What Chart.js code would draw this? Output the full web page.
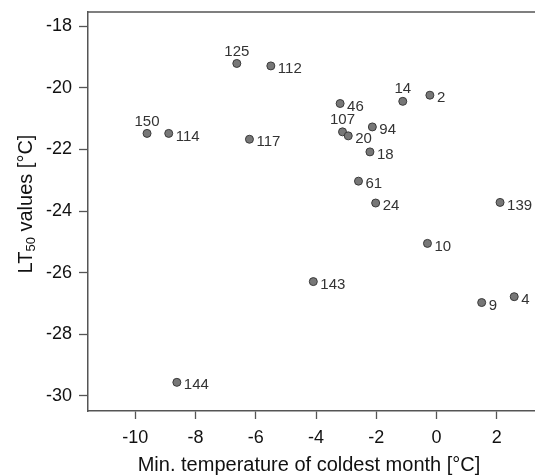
<!DOCTYPE html>
<html>
<head>
<meta charset="utf-8">
<script src="https://cdn.jsdelivr.net/npm/chart.js@4"></script>
<style>
  html, body { margin: 0; padding: 0; background: #fff; overflow: hidden; }
  #wrap { width: 535px; height: 475px; }
</style>
</head>
<body>
<div id="wrap"><canvas id="chart" width="535" height="475"></canvas></div>
<script>
// site numbers, min. temperature of coldest month, LT50 values
const siteIds = ['150', '114', '125', '117', '112', '46', '107', '20', '94', '18',
                 '14', '2', '61', '24', '139', '10', '143', '9', '4', '144'];
const minTemp = [-9.61, -8.89, -6.63, -6.21, -5.50, -3.20, -3.12, -2.93, -2.13, -2.21,
                 -1.12, -0.22, -2.59, -2.02, 2.11, -0.30, -4.09, 1.50, 2.58, -8.62];
const lt50 = [-21.48, -21.48, -19.21, -21.67, -19.29, -20.51, -21.43, -21.56, -21.27, -22.08,
              -20.44, -20.24, -23.03, -23.74, -23.72, -25.05, -26.29, -26.97, -26.78, -29.56];
const xTicks = [-10, -8, -6, -4, -2, 0, 2];
const yTicks = [-30, -28, -26, -24, -22, -20, -18];
const labelsAbove = ['150', '125', '14', '107'];

const FONT = '"Liberation Sans", Arial, sans-serif';
const axisColor = '#555';

const points = minTemp.map((x, i) => ({ x: x, y: lt50[i] }));

// labels next to each point
const pointLabels = {
    id: 'pointLabels',
    afterDatasetsDraw(chart) {
        const ctx = chart.ctx;
        const meta = chart.getDatasetMeta(0);
        ctx.save();
        ctx.font = '15px ' + FONT;
        ctx.fillStyle = '#333';
        ctx.textBaseline = 'middle';
        meta.data.forEach((pt, i) => {
            const id = siteIds[i];
            if (labelsAbove.includes(id)) {
                ctx.textAlign = 'center';
                ctx.fillText(id, pt.x, pt.y - 12);
            } else {
                ctx.textAlign = 'left';
                ctx.fillText(id, pt.x + 7, pt.y + 3);
            }
        });
        ctx.restore();
    }
};

// top frame line and axis titles
const frameAndTitles = {
    id: 'frameAndTitles',
    afterDraw(chart) {
        const ctx = chart.ctx;
        const a = chart.chartArea;
        ctx.save();
        ctx.strokeStyle = axisColor;
        ctx.lineWidth = 1.5;
        ctx.beginPath();
        ctx.moveTo(a.left, a.top);
        ctx.lineTo(a.right, a.top);
        ctx.stroke();

        ctx.fillStyle = '#111';
        ctx.font = '20px ' + FONT;
        ctx.textAlign = 'center';
        ctx.textBaseline = 'middle';
        ctx.fillText('Min. temperature of coldest month [°C]', 309, 465);

        // y title with subscript
        ctx.translate(26, 204);
        ctx.rotate(-Math.PI / 2);
        ctx.textAlign = 'left';
        const big = '20px ' + FONT, small = '13px ' + FONT;
        ctx.font = big;
        const wLT = ctx.measureText('LT').width;
        const w3 = ctx.measureText(' values [°C]').width;
        ctx.font = small;
        const w2 = ctx.measureText('50').width;
        const x0 = -(wLT + w2 + w3) / 2;
        ctx.font = big;
        ctx.fillText('LT', x0, 0);
        ctx.font = small;
        ctx.fillText('50', x0 + wLT, 5);
        ctx.font = big;
        ctx.fillText(' values [°C]', x0 + wLT + w2, 0);
        ctx.restore();
    }
};

new Chart(document.getElementById('chart').getContext('2d'), {
    type: 'scatter',
    data: {
        datasets: [{
            data: points,
            pointRadius: 4,
            pointHoverRadius: 4,
            pointBackgroundColor: '#777',
            pointBorderColor: '#3a3a3a',
            pointBorderWidth: 1
        }]
    },
    options: {
        responsive: false,
        animation: false,
        layout: { autoPadding: false, padding: { top: 12, right: 0, left: 0, bottom: 0 } },
        plugins: {
            legend: { display: false },
            tooltip: { enabled: false }
        },
        scales: {
            x: {
                type: 'linear',
                min: -11.57,
                max: 3.27,
                afterBuildTicks: s => { s.ticks = xTicks.map(v => ({ value: v })); },
                afterFit: s => { s.height = 64; s.paddingLeft = 0; s.paddingRight = 0; },
                grid: { drawOnChartArea: false, drawTicks: true, tickLength: 8, tickColor: axisColor, tickWidth: 1.3 },
                border: { display: true, color: axisColor, width: 1.5 },
                ticks: { autoSkip: false, maxRotation: 0, padding: 8, color: '#111', font: { family: FONT, size: 18 } }
            },
            y: {
                type: 'linear',
                min: -30.49,
                max: -17.54,
                afterBuildTicks: s => { s.ticks = yTicks.map(v => ({ value: v })); },
                afterFit: s => { s.width = 88; s.paddingTop = 0; s.paddingBottom = 0; },
                grid: { drawOnChartArea: false, drawTicks: true, tickLength: 9, tickColor: axisColor, tickWidth: 1.3 },
                border: { display: true, color: axisColor, width: 1.5 },
                ticks: { autoSkip: false, padding: 7, color: '#111', font: { family: FONT, size: 18 } }
            }
        }
    },
    plugins: [pointLabels, frameAndTitles]
});
</script>
</body>
</html>
